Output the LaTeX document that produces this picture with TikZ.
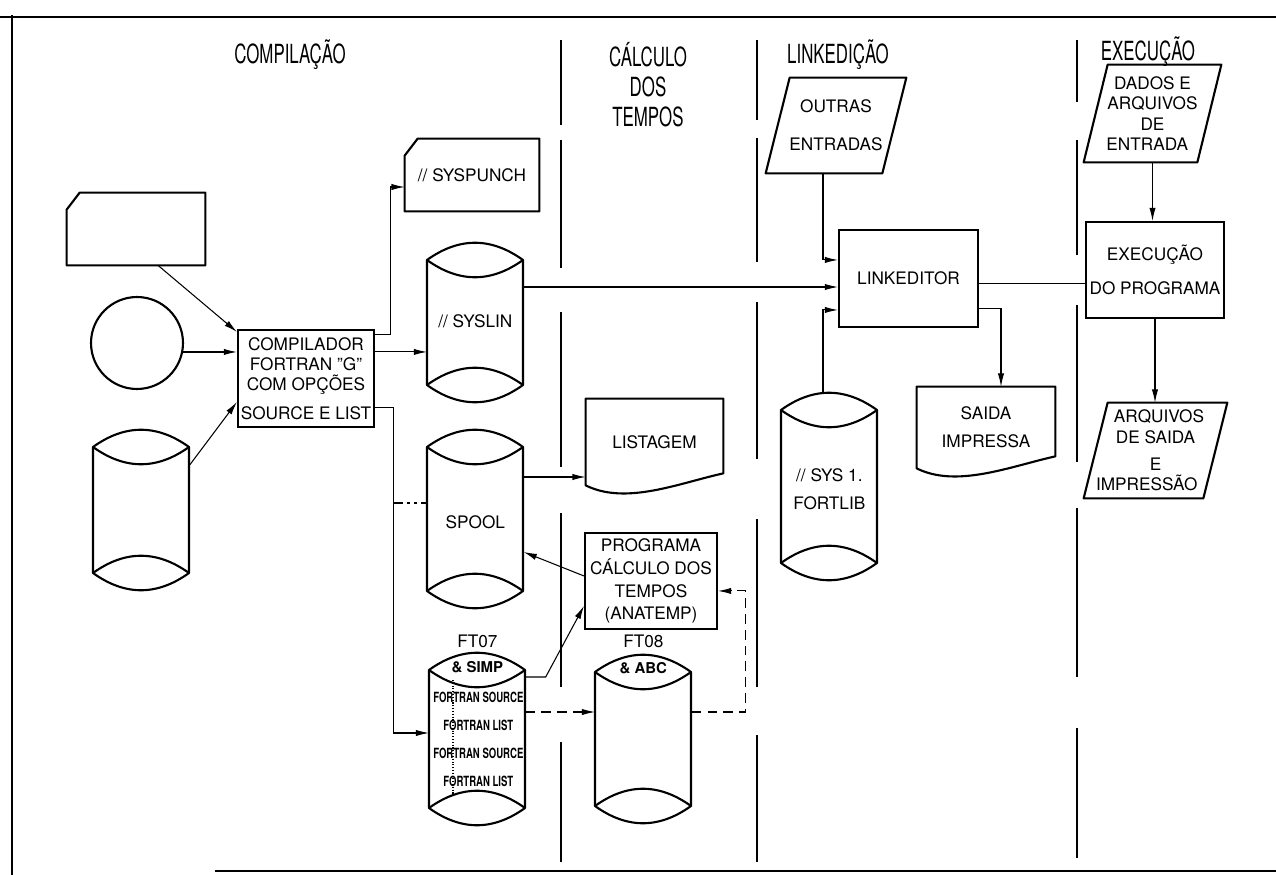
\documentclass[tikz,border=0pt]{standalone}
\usepackage{fontspec}
\setmainfont{TeX Gyre Heros}
\newfontfamily\narrowfont[FakeStretch=0.64]{TeX Gyre Heros}
\newfontfamily\fortfont[FakeStretch=0.68]{TeX Gyre Heros}
\usetikzlibrary{arrows.meta}

\newcommand{\boxfont}{\fontsize{9.8}{11.5}\selectfont}

% drum: name, left x, top y, bottom y
\newcommand{\drum}[4]{%
  \node[inner sep=0pt, minimum width=1.92cm, minimum height={(#4-#3)*0.02cm}, anchor=north west] (#1) at (#2,#3) {};
  \draw[outline] (#2,#3+17) .. controls +(32,-23) and +(-32,-23) .. (#2+96,#3+17) -- (#2+96,#4-17)
    .. controls +(-32,23) and +(32,23) .. (#2,#4-17) -- cycle;
  \draw[outline] (#2,#3+17) .. controls +(32,23) and +(-32,23) .. (#2+96,#3+17);
  \draw[outline] (#2,#4-17) .. controls +(32,-23) and +(-32,-23) .. (#2+96,#4-17);
}
% card: name, left, top, right, bottom, text
\newcommand{\card}[6]{%
  \node[inner sep=0pt, minimum width={(#4-#2)*0.02cm}, minimum height={(#5-#3)*0.02cm}, font=\boxfont] (#1) at ({(#2+#4)/2},{(#3+#5)/2}) {#6};
  \draw[outline] ([shift={(0,17)}]#1.north west) -- ([shift={(13,0)}]#1.north west) -- (#1.north east)
    -- (#1.south east) -- (#1.south west) -- cycle;
}
% document: name, left, top, right, bottom, text
\newcommand{\doc}[6]{%
  \node[inner sep=0pt, minimum width={(#4-#2)*0.02cm}, minimum height={(#5-#3)*0.02cm}, align=center, font=\boxfont] (#1) at ({(#2+#4)/2},{(#3+#5)/2}) {#6};
  \draw[outline] (#1.south west) -- (#1.north west) -- (#1.north east) -- ([shift={(0,-12)}]#1.south east)
    .. controls +(-45,10) and +(40,20) .. (#1.south west) -- cycle;
}
% parallelogram: name, centre x, centre y, width, height, text
\newcommand{\slant}[6]{%
  \node[inner sep=0pt, minimum width={#4*0.02cm}, minimum height={#5*0.02cm}, align=center, font=\boxfont] (#1) at (#2,#3) {#6};
  \draw[outline] ([shift={(-12,0)}]#1.south west) -- ([shift={(12,0)}]#1.north west)
    -- ([shift={(12,0)}]#1.north east) -- ([shift={(-12,0)}]#1.south east) -- cycle;
}

\begin{document}
\begin{tikzpicture}[x=0.02cm, y=-0.02cm]
  \tikzstyle{outline}=[line width=1.2pt, line join=round]
  \tikzstyle{box}=[draw, line width=1.2pt, inner sep=0pt, align=center, font=\boxfont]
  \tikzstyle{head}=[align=center, font=\narrowfont\fontsize{15}{17}\selectfont]
  \tikzstyle{flow}=[line width=0.6pt, -{Latex[length=7.5pt,width=3.6pt]}]
  \tikzstyle{dflow}=[flow, dash pattern=on 5.5pt off 3.5pt]
  \tikzstyle{divider}=[line width=1.2pt]
  \useasboundingbox (0,0) rectangle (1276,875);

  \draw[line width=1.5pt] (0,17) -- (1276,17);
  \draw[line width=1.5pt] (12,15) -- (12,875);
  \draw[line width=1.2pt] (215,871) -- (1276,871);
  \foreach \x/\a/\b in {561/40/125, 561/140/268, 561/312/467, 561/513/687, 561/742/862,
                        757/40/120, 757/138/262, 757/302/459, 757/519/687, 757/735/862,
                        1077/40/102, 1077/140/255, 1077/305/462, 1077/508/677, 1077/728/858}
    \draw[divider] (\x,\a) -- (\x,\b);

  \node[head] (h1) at (290,55) {COMPILAÇÃO};
  \node[head] (h2) at (648,85) {CÁLCULO\\DOS\\TEMPOS};
  \node[head] (h3) at (838,55) {LINKEDIÇÃO};
  \node[head] (h4) at (1148,52) {EXECUÇÃO};

  \card{deck}{67}{193}{205}{265}{}
  \node[draw, circle, line width=1.2pt, minimum size=1.84cm, inner sep=0pt] (reel) at (137,343) {};
  \drum{disk}{93}{430}{590}
  \node[box, minimum width=2.72cm, minimum height=1.94cm] (comp) at (306,378.5)
    {COMPILADOR\\FORTRAN \char"22G\char"22\\COM OPÇÕES\\[4.5pt]SOURCE E LIST};

  \card{punch}{405}{139}{539}{211}{// SYSPUNCH}
  \drum{syslin}{427}{243}{402}
  \node[font=\boxfont] at ([shift={(0,78)}]syslin.north) {// SYSLIN};
  \drum{spool}{427}{430}{608}
  \node[font=\boxfont] at ([shift={(0,92)}]spool.north) {SPOOL};
  \drum{ftseven}{429}{653}{825}
  \node[font=\boxfont] at ([shift={(0,-12)}]ftseven.north) {FT07};
  \node[font=\fontsize{8.5}{10}\selectfont\bfseries] at ([shift={(0,14)}]ftseven.north) {\& SIMP};
  \draw[densely dotted, line width=0.6pt] ([shift={(24,27)}]ftseven.north west) -- ([shift={(24,142)}]ftseven.north west);
  \node[align=center, font=\fortfont\bfseries\fontsize{8}{16}\selectfont] at ([shift={(1,86.5)}]ftseven.north)
    {FORTRAN SOURCE\\FORTRAN LIST\\FORTRAN SOURCE\\FORTRAN LIST};

  \doc{list}{586}{399}{723}{485}{LISTAGEM}
  \node[box, minimum width=2.64cm, minimum height=1.92cm, font=\fontsize{9.8}{13}\selectfont] (prog) at (651,581)
    {PROGRAMA\\CÁLCULO DOS\\TEMPOS\\(ANATEMP)};
  \drum{fteight}{595}{655}{823}
  \node[font=\boxfont] at ([shift={(0,-14)}]fteight.north) {FT08};
  \node[font=\fontsize{8.5}{10}\selectfont\bfseries] at ([shift={(0,13)}]fteight.north) {\& ABC};

  \slant{outras}{836}{125.5}{116}{95}{OUTRAS\\[10pt]ENTRADAS}
  \node[box, minimum width=2.78cm, minimum height=1.94cm] (link) at (908.5,278.5) {LINKEDITOR};
  \drum{sysone}{781}{393}{580}
  \node[align=center, font=\fontsize{9.8}{16}\selectfont] at ([shift={(0,96)}]sysone.north) {// SYS 1.\\FORTLIB};
  \doc{saida}{917}{387}{1055}{468}{SAIDA\\[4.5pt]IMPRESSA}

  \slant{dados}{1152.5}{113.5}{113}{97}{DADOS E\\ARQUIVOS\\DE\\ENTRADA\hspace*{6pt}}
  \node[box, minimum width=2.76cm, minimum height=1.92cm] (exec) at (1155,270) {EXECUÇÃO\\[7.5pt]DO PROGRAMA};
  \slant{arqs}{1155.5}{450.5}{112}{95}{\hspace*{4pt}ARQUIVOS\\DE SAIDA\\[4pt]E\\IMPRESSÃO\hspace*{10pt}}

  \draw[flow] ([shift={(22,0)}]deck.south) -- ([shift={(0,3)}]comp.north west);
  \draw[flow] (reel.-11) -- (reel.-11 -| comp.west);
  \draw[flow] ([shift={(0,35)}]disk.north east) -- ([shift={(0,73)}]comp.north west);
  \draw[flow] ([shift={(0,6)}]comp.north east) -- ++(15,0) |- ([shift={(0,12)}]punch.west);
  \coordinate (c1) at ([shift={(0,23)}]comp.north east);
  \draw[flow] (c1) -- (c1 -| syslin.west);
  \coordinate (c2) at ([shift={(0,79)}]comp.north east);
  \coordinate (c3) at ([shift={(18,0)}]c2);
  \coordinate (spin) at ([shift={(0,73)}]spool.north west);
  \draw[flow] (c2) -- (c3) |- ([shift={(0,80)}]ftseven.north west);
  \draw[line width=1pt, dash pattern=on 5.5pt off 2.5pt on 1.5pt off 2.5pt on 1.5pt off 2.5pt] (c3 |- spin) -- (spin);

  \coordinate (c4) at ([shift={(0,44)}]syslin.north east);
  \draw[flow] (c4) -- (c4 -| link.west);
  \draw[flow] ([shift={(-13,0)}]outras.south) |- ([shift={(0,31)}]link.north west);
  \draw[flow] ([shift={(42,0)}]sysone.north west) |- ([shift={(0,81)}]link.north west);
  \coordinate (c5) at ([shift={(0,55)}]link.north east);
  \draw[line width=0.6pt] (c5) -- (c5 -| exec.west);
  \draw[flow] ([shift={(0,80)}]link.north east) -| ([shift={(15,0)}]saida.north);
  \draw[flow] (dados.south) -- (dados.south |- exec.north);
  \draw[flow] (exec.south) -- (exec.south |- arqs.north);

  \coordinate (c6) at ([shift={(0,47)}]spool.north east);
  \draw[flow] (c6) -- (c6 -| list.west);
  \draw[flow] ([shift={(0,44)}]prog.north west) -- ([shift={(0,122)}]spool.north east);
  \draw[flow] ([shift={(0,24)}]ftseven.north east) -- ++(20,0) -- ([shift={(0,74)}]prog.north west);
  \coordinate (c7) at ([shift={(0,59)}]ftseven.north east);
  \draw[dflow] (c7) -- (c7 -| fteight.west);
  \draw[dflow] ([shift={(0,57)}]fteight.north east) -- ++(54,0) |- ([shift={(0,59)}]prog.north east);
\end{tikzpicture}
\end{document}
